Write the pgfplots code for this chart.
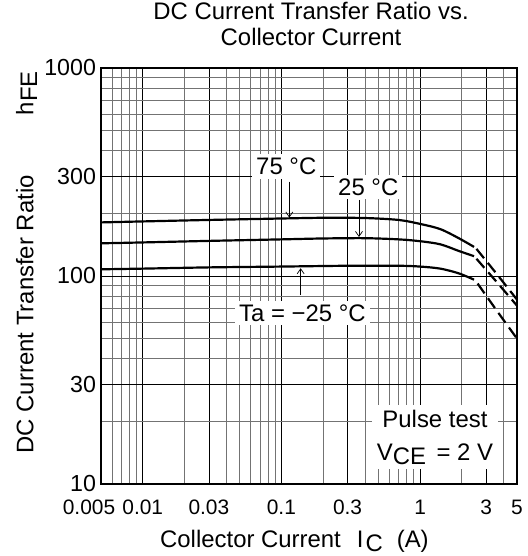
\documentclass[border=0pt]{standalone}
\usepackage{fontspec}
\setmainfont{Liberation Sans}
\usepackage{pgfplots}
\pgfplotsset{compat=1.18}
\usetikzlibrary{arrows.meta}
\newcommand{\sub}[1]{\raisebox{-0.3ex}{#1}}
\begin{document}
\begin{tikzpicture}
\begin{axis}[
  name=ax,
  xmode=log, ymode=log,
  scale only axis,
  width=416bp, height=416bp,
  xmin=0.005, xmax=5, ymin=10, ymax=1000,
  enlargelimits=false,
  xtick={0.01,0.03,0.1,0.3,1,3,5},
  xticklabels={0.01,0.03,0.1,0.3,1,3,5},
  extra x ticks={0.005},
  extra x tick labels={0.005},
  extra x tick style={xticklabel style={xshift=-12bp}},
  ytick={10,30,100,300,1000},
  yticklabels={10,30,100,300,1000},
  minor xtick={0.006,0.007,0.008,0.009,0.02,0.04,0.05,0.06,0.07,0.08,0.09,0.2,0.4,0.5,0.6,0.7,0.8,0.9,2,4},
  minor ytick={20,40,50,60,70,80,90,200,400,500,600,700,800,900},
  grid=both,
  major grid style={black, line width=0.7pt},
  minor grid style={black!55, line width=0.7pt},
  major tick length=0pt, minor tick length=0pt,
  axis line style={black, line width=1.4pt},
  xticklabel style={font=\fontsize{21}{22}\selectfont, anchor=base, yshift=-31bp},
  yticklabel style={font=\fontsize{23.3}{24}\selectfont, anchor=east, xshift=-1.5bp},
  xlabel={Collector Current\hspace{16bp}I\hspace{2bp}\sub{C}\hspace{14bp}(A)},
  xlabel style={font=\fontsize{24}{26}\selectfont, at={(axis description cs:0.465,-0.152)}, anchor=base},
  ylabel={DC Current Transfer Ratio\hspace{60bp}h\sub{FE}},
  ylabel style={font=\fontsize{24}{26}\selectfont, at={(axis description cs:-0.1627,0.065)}, anchor=base west, rotate=0},
  title={DC Current Transfer Ratio vs.\\Collector Current},
  title style={font=\fontsize{24}{25.7}\selectfont, align=center, at={(axis description cs:0.505,1)}, anchor=south, inner sep=0pt, yshift=16.3bp},
  clip=false,
]
% 75 C
\addplot[black, line width=2.2pt, smooth] coordinates {
 (0.005,181) (0.01,183) (0.03,186) (0.1,189) (0.2,190.5) (0.4,190) (0.7,186) (1.0,178) (1.4,168) (1.9,152) (2.45,138)};
\addplot[black, line width=2.2pt, smooth, dash pattern=on 12bp off 6bp] coordinates {
 (2.55,135) (3.5,104) (5,77)};
% 25 C
\addplot[black, line width=2.2pt, smooth] coordinates {
 (0.005,143.6) (0.01,145) (0.03,147.5) (0.1,150) (0.2,151.5) (0.4,152) (0.7,150) (1.0,147) (1.4,142) (1.9,132) (2.45,124.5)};
\addplot[black, line width=2.2pt, smooth, dash pattern=on 12bp off 6bp] coordinates {
 (2.55,121) (3.5,95) (5,72)};
% -25 C
\addplot[black, line width=2.2pt, smooth] coordinates {
 (0.005,107.7) (0.01,108.5) (0.03,110) (0.1,111) (0.3,112) (0.7,112) (1.0,111) (1.4,108.5) (1.9,103) (2.45,96)};
\addplot[black, line width=2.2pt, smooth, dash pattern=on 12bp off 6bp] coordinates {
 (2.6,92) (3.5,69.5) (5,50)};
% labels
\node[fill=white, inner xsep=4bp, inner ysep=4bp, font=\fontsize{24}{26}\selectfont] at (axis cs:0.1084,336.9) {75 °C};
\node[fill=white, inner xsep=4bp, inner ysep=4bp, font=\fontsize{24}{26}\selectfont] at (axis cs:0.4231,267.9) {25 °C};
\node[fill=white, inner xsep=4bp, inner ysep=4bp, font=\fontsize{24}{26}\selectfont] at (axis cs:0.1419,66.4) {Ta = −25 °C};
\node[fill=white, inner xsep=5bp, inner ysep=5bp, align=center, font=\fontsize{24}{33.3}\selectfont] at (axis cs:1.281,16.8) {Pulse test\\V\sub{CE}\, = 2 V};
\draw[-{Straight Barb[length=5bp,width=7bp]}, line width=0.7pt] (axis cs:0.114,284) -- (axis cs:0.114,191);
\draw[-{Straight Barb[length=5bp,width=7bp]}, line width=0.7pt] (axis cs:0.3626,232) -- (axis cs:0.3626,154);
\draw[-{Straight Barb[length=5bp,width=7bp]}, line width=0.7pt] (axis cs:0.1377,81) -- (axis cs:0.1377,109);
\end{axis}
\pgfresetboundingbox
\path ([xshift=-101bp,yshift=-72bp]ax.south west) rectangle ([xshift=11bp,yshift=68bp]ax.north east);
\end{tikzpicture}
\end{document}
